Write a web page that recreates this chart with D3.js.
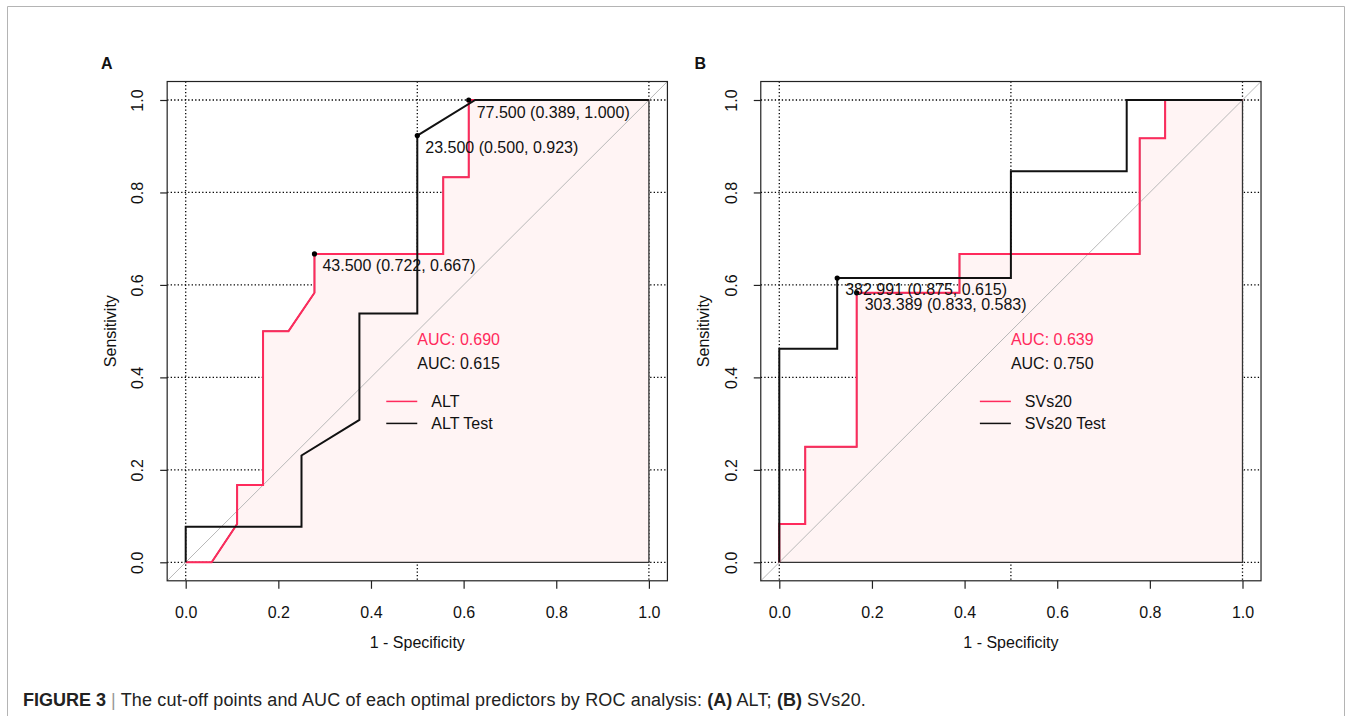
<!DOCTYPE html>
<html>
<head>
<meta charset="utf-8">
<script src="https://cdn.jsdelivr.net/npm/d3@7/dist/d3.min.js"></script>
<style>
  body { margin: 0; background: #fff; }
  svg { display: block; font-family: "Liberation Sans", Arial, sans-serif; }
</style>
</head>
<body>
<svg id="fig" width="1354" height="716"></svg>
<script>
// --- data ---
var ticks = [0, 0.2, 0.4, 0.6, 0.8, 1.0];
var gridX = [0, 0.5, 1];
var gridY = [0, 0.2, 0.4, 0.6, 0.8, 1.0];

// panel A: ALT (red) and ALT Test (black)
var altFpr = [0, 0.056, 0.111, 0.111, 0.167, 0.167, 0.222, 0.278, 0.278, 0.556, 0.556, 0.611, 0.611, 1];
var altTpr = [0, 0, 0.083, 0.167, 0.167, 0.5, 0.5, 0.583, 0.667, 0.667, 0.833, 0.833, 1, 1];
var altTestFpr = [0, 0, 0.25, 0.25, 0.375, 0.375, 0.5, 0.5, 0.625, 1];
var altTestTpr = [0, 0.077, 0.077, 0.231, 0.308, 0.538, 0.538, 0.923, 1, 1];
var altThres = [
  {x: 0.278, y: 0.667, label: "43.500 (0.722, 0.667)"},
  {x: 0.611, y: 1.0, label: "77.500 (0.389, 1.000)"},
  {x: 0.5, y: 0.923, label: "23.500 (0.500, 0.923)"}
];
var altAuc = ["AUC: 0.690", "AUC: 0.615"];
var altLegend = ["ALT", "ALT Test"];

// panel B: SVs20 (red) and SVs20 Test (black)
var svFpr = [0, 0, 0.056, 0.056, 0.167, 0.167, 0.389, 0.389, 0.778, 0.778, 0.833, 0.833, 1];
var svTpr = [0, 0.083, 0.083, 0.25, 0.25, 0.583, 0.583, 0.667, 0.667, 0.917, 0.917, 1, 1];
var svTestFpr = [0, 0, 0.125, 0.125, 0.5, 0.5, 0.75, 0.75, 1];
var svTestTpr = [0, 0.462, 0.462, 0.615, 0.615, 0.846, 0.846, 1, 1];
var svThres = [
  {x: 0.125, y: 0.615, label: "382.991 (0.875, 0.615)"},
  {x: 0.167, y: 0.583, label: "303.389 (0.833, 0.583)"}
];
var svAuc = ["AUC: 0.639", "AUC: 0.750"];
var svLegend = ["SVs20", "SVs20 Test"];

var RED = "#FF2A5C", FILL = "#FFF4F4";

var svg = d3.select("#fig");

// outer figure border (top, left, right)
svg.append("path")
  .attr("d", "M7.5,716 V6.5 H1344.5 V716")
  .attr("fill", "none").attr("stroke", "#b4b4b4").attr("stroke-width", 1);

function zip(xs, ys) { return xs.map(function (v, i) { return [v, ys[i]]; }); }

function panel(x0, letter, fpr, tpr, tFpr, tTpr, thres, auc, legend) {
  var x = d3.scaleLinear().domain([0, 1]).range([x0, x0 + 463.2]);
  var y = d3.scaleLinear().domain([0, 1]).range([562.3, 100]);
  var g = svg.append("g");
  var L = x(-0.04), R = x(1.04), T = y(1.04), B = y(-0.04);

  // grid
  g.selectAll(".gx").data(gridX).enter().append("line")
    .attr("x1", x).attr("x2", x).attr("y1", T).attr("y2", B)
    .attr("stroke", "#000").attr("stroke-width", 1.3).attr("stroke-dasharray", "1.3,2.2");
  g.selectAll(".gy").data(gridY).enter().append("line")
    .attr("y1", y).attr("y2", y).attr("x1", L).attr("x2", R)
    .attr("stroke", "#000").attr("stroke-width", 1.3).attr("stroke-dasharray", "1.3,2.2");

  // area under the first curve
  var poly = zip(fpr, tpr).concat([[1, 0]]);
  g.append("path")
    .attr("d", d3.line().x(function (d) { return x(d[0]); }).y(function (d) { return y(d[1]); })(poly) + "Z")
    .attr("fill", FILL).attr("stroke", "#333").attr("stroke-width", 1.3);

  // chance diagonal, clipped to the plot region
  g.append("line")
    .attr("x1", L).attr("y1", B).attr("x2", R).attr("y2", T)
    .attr("stroke", "#b8b8b8").attr("stroke-width", 1);

  var line = d3.line().x(function (d) { return x(d[0]); }).y(function (d) { return y(d[1]); });
  g.append("path").attr("d", line(zip(fpr, tpr)))
    .attr("fill", "none").attr("stroke", RED).attr("stroke-width", 2);
  g.append("path").attr("d", line(zip(tFpr, tTpr)))
    .attr("fill", "none").attr("stroke", "#111").attr("stroke-width", 2);

  // threshold points and labels
  g.selectAll(".pt").data(thres).enter().append("circle")
    .attr("cx", function (d) { return x(d.x); }).attr("cy", function (d) { return y(d.y); })
    .attr("r", 2.6).attr("fill", "#000");
  g.selectAll(".pl").data(thres).enter().append("text")
    .attr("x", function (d) { return x(d.x) + 8; })
    .attr("y", function (d) { return y(d.y) + 17.5; })
    .attr("font-size", 16).attr("fill", "#111")
    .text(function (d) { return d.label; });

  // AUC texts
  g.selectAll(".auc").data(auc).enter().append("text")
    .attr("x", x(0.5))
    .attr("y", function (d, i) { return y([0.483, 0.431][i]) + 5.8; })
    .attr("font-size", 16)
    .attr("fill", function (d, i) { return i === 0 ? RED : "#111"; })
    .text(function (d) { return d; });

  // legend
  var lg = g.selectAll(".lg").data(legend).enter().append("g")
    .attr("transform", function (d, i) { return "translate(" + x(0.433) + "," + (y(0.348) + i * 22) + ")"; });
  lg.append("line").attr("x1", 0).attr("x2", 31)
    .attr("stroke", function (d, i) { return i === 0 ? RED : "#111"; }).attr("stroke-width", 1.5);
  lg.append("text").attr("x", 45).attr("y", 5.8).attr("font-size", 16).attr("fill", "#111")
    .text(function (d) { return d; });

  // frame
  g.append("rect").attr("x", L).attr("y", T).attr("width", R - L).attr("height", B - T)
    .attr("fill", "none").attr("stroke", "#222").attr("stroke-width", 1.2);

  // axes
  var ax = g.append("g").attr("transform", "translate(0," + B + ")")
    .call(d3.axisBottom(x).tickValues(ticks).tickFormat(d3.format(".1f")).tickSize(8).tickPadding(17.5));
  var ay = g.append("g").attr("transform", "translate(" + L + ",0)")
    .call(d3.axisLeft(y).tickValues(ticks).tickFormat(d3.format(".1f")).tickSize(7));
  [ax, ay].forEach(function (a) {
    a.select(".domain").remove();
    a.selectAll("line").attr("stroke", "#222").attr("stroke-width", 1.2);
    a.selectAll("text").attr("font-size", 16).attr("fill", "#111")
      .attr("font-family", "Liberation Sans, Arial, sans-serif");
  });
  // R draws y tick labels parallel to the axis
  ay.selectAll("text")
    .attr("x", null).attr("dy", null).attr("text-anchor", "middle")
    .attr("transform", "translate(-23.8,0) rotate(-90)");

  // axis titles
  g.append("text").attr("x", x(0.5)).attr("y", 647.5).attr("text-anchor", "middle")
    .attr("font-size", 16).attr("fill", "#111").text("1 - Specificity");
  g.append("text").attr("transform", "translate(" + (x0 - 70) + "," + y(0.5) + ") rotate(-90)")
    .attr("text-anchor", "middle").attr("font-size", 16).attr("fill", "#111").text("Sensitivity");

  // panel letter
  g.append("text").attr("x", x0 - 84.7).attr("y", 69.3).attr("font-size", 16)
    .attr("font-weight", "bold").attr("fill", "#111").text(letter);
}

panel(185.7, "A", altFpr, altTpr, altTestFpr, altTestTpr, altThres, altAuc, altLegend);
panel(779.3, "B", svFpr, svTpr, svTestFpr, svTestTpr, svThres, svAuc, svLegend);

// caption
var cap = svg.append("text").attr("x", 23).attr("y", 706).attr("font-size", 18).attr("fill", "#222");
cap.append("tspan").attr("font-weight", "bold").text("FIGURE 3");
cap.append("tspan").attr("fill", "#999").text(" | ");
cap.append("tspan").attr("letter-spacing", 0.15).text("The cut-off points and AUC of each optimal predictors by ROC analysis: ");
cap.append("tspan").attr("font-weight", "bold").text("(A)");
cap.append("tspan").attr("letter-spacing", 0.15).text(" ALT; ");
cap.append("tspan").attr("font-weight", "bold").text("(B)");
cap.append("tspan").attr("letter-spacing", 0.15).text(" SVs20.");
</script>
</body>
</html>
